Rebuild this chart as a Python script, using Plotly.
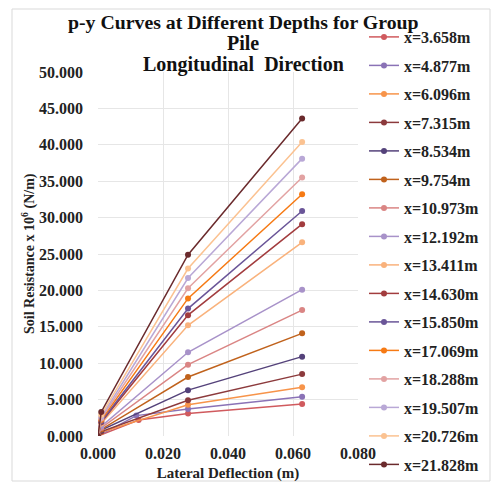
import plotly.graph_objects as go

depths = ["x=3.658m", "x=4.877m", "x=6.096m", "x=7.315m", "x=8.534m", "x=9.754m",
          "x=10.973m", "x=12.192m", "x=13.411m", "x=14.630m", "x=15.850m", "x=17.069m",
          "x=18.288m", "x=19.507m", "x=20.726m", "x=21.828m"]

colors = ["#d05a5e", "#8a72b6", "#f7944a", "#8c3a3c", "#54427a", "#c0621c",
          "#da8584", "#a892c9", "#f9b27c", "#a23c3e", "#6a5598", "#f67a14",
          "#e2a2a2", "#b9a8d6", "#fbc291", "#6a2a2c"]

# lateral deflection (m) of each point, per depth
deflection = [
    [0.0, 0.0125, 0.0277, 0.0628],
    [0.0, 0.0118, 0.0277, 0.0628],
    [0.0, 0.0010, 0.0277, 0.0628],
    [0.0, 0.0010, 0.0277, 0.0628],
    [0.0, 0.0010, 0.0277, 0.0628],
    [0.0, 0.0010, 0.0277, 0.0628],
    [0.0, 0.0010, 0.0277, 0.0628],
    [0.0, 0.0010, 0.0277, 0.0628],
    [0.0, 0.0010, 0.0277, 0.0628],
    [0.0, 0.0010, 0.0277, 0.0628],
    [0.0, 0.0010, 0.0277, 0.0628],
    [0.0, 0.0010, 0.0277, 0.0628],
    [0.0, 0.0010, 0.0277, 0.0628],
    [0.0, 0.0010, 0.0277, 0.0628],
    [0.0, 0.0010, 0.0277, 0.0628],
    [0.0, 0.0010, 0.0277, 0.0628],
]

# soil resistance x 10^6 (N/m)
resistance = [
    [0.0, 2.2, 3.1, 4.4],
    [0.0, 2.8, 3.7, 5.4],
    [0.0, 0.5, 4.3, 6.7],
    [0.0, 0.6, 4.9, 8.5],
    [0.0, 0.8, 6.3, 10.9],
    [0.0, 0.9, 8.1, 14.1],
    [0.0, 1.1, 9.8, 17.3],
    [0.0, 1.3, 11.5, 20.1],
    [0.0, 1.7, 15.2, 26.6],
    [0.0, 1.9, 16.6, 29.1],
    [0.0, 2.0, 17.5, 30.9],
    [0.0, 2.2, 18.9, 33.2],
    [0.0, 2.4, 20.3, 35.5],
    [0.0, 2.6, 21.7, 38.1],
    [0.0, 2.9, 23.0, 40.4],
    [0.0, 3.3, 24.9, 43.6],
]

x_ticks = [0.0, 0.02, 0.04, 0.06, 0.08]
y_ticks = [0, 5, 10, 15, 20, 25, 30, 35, 40, 45, 50]
title_lines = ["p-y Curves at Different Depths for Group", "Pile", "Longitudinal  Direction"]
y_title = "Soil Resistance x 10<sup>6</sup> (N/m)"

FONT = "Liberation Serif"
W, H = 493, 482
L, R, T, B = 98, 358, 72, 436  # plot area in pixels

def px(xpix):
    return (xpix - L) / (R - L)

def py(ypix):
    return (B - ypix) / (B - T)

fig = go.Figure()
for i, name in enumerate(depths):
    fig.add_trace(go.Scatter(
        x=deflection[i], y=resistance[i], name="<b>%s</b>" % name, mode="lines+markers",
        legendgroup=name,
        line=dict(color=colors[i], width=1.5),
        marker=dict(color=colors[i], size=6),
    ))

title_y = [22, 43, 64]
title_sizes = [19.8, 20, 20]
annotations = [
    dict(text="<b>%s</b>" % t, x=px(243), y=py(yy), xref="paper", yref="paper",
         xanchor="center", yanchor="middle", showarrow=False,
         font=dict(family=FONT, size=s, color="#111111"))
    for t, yy, s in zip(title_lines, title_y, title_sizes)
]
annotations.append(dict(
    text="<b>%s</b>" % y_title, x=px(28), y=py(254), xref="paper", yref="paper",
    xanchor="center", yanchor="middle", showarrow=False, textangle=-90,
    font=dict(family=FONT, size=14, color="#222222")))

fig.update_layout(
    width=W, height=H,
    paper_bgcolor="white", plot_bgcolor="white",
    margin=dict(l=L, r=W - R, t=T, b=H - B, pad=0, autoexpand=False),
    font=dict(family=FONT, color="#222222", size=13),
    annotations=annotations,
    legend=dict(
        x=px(364), xanchor="left", y=py(20), yanchor="top",
        font=dict(family=FONT, size=16, color="#222222"),
        traceorder="grouped", tracegroupgap=4.7, maxheight=1.0,
        bgcolor="rgba(0,0,0,0)", itemwidth=30,
    ),
    showlegend=True,
    shapes=[dict(type="rect", xref="paper", yref="paper",
                 x0=px(12), x1=px(490), y0=py(481), y1=py(9),
                 line=dict(color="#d9d9d9", width=1), layer="below")],
)

fig.update_xaxes(
    range=[0, 0.08], tickvals=x_ticks, ticktext=["<b>%.3f</b>" % v for v in x_ticks],
    showgrid=True, gridcolor="#e6e6e6", gridwidth=1, zeroline=False,
    showline=False, ticks="", ticklabelstandoff=6, automargin=False,
    tickfont=dict(family=FONT, size=16, color="#222222"),
    title=dict(text="<b>Lateral Deflection (m)</b>", standoff=8,
               font=dict(family=FONT, size=15, color="#222222")),
)
fig.update_yaxes(
    range=[0, 50], tickvals=y_ticks, ticktext=["<b>%.3f</b>" % v for v in y_ticks],
    showgrid=True, gridcolor="#e6e6e6", gridwidth=1, zeroline=False,
    showline=False, ticks="", ticklabelstandoff=14, automargin=False,
    tickfont=dict(family=FONT, size=16, color="#222222"),
)

fig.write_html("out.html", config={"displayModeBar": False})

# remove the browser's default page margin so the figure starts at the window corner
with open("out.html", "r", encoding="utf-8") as f:
    html = f.read()
html = html.replace("<head>", "<head><style>html,body{margin:0;padding:0;overflow:hidden;}</style>", 1)
with open("out.html", "w", encoding="utf-8") as f:
    f.write(html)
